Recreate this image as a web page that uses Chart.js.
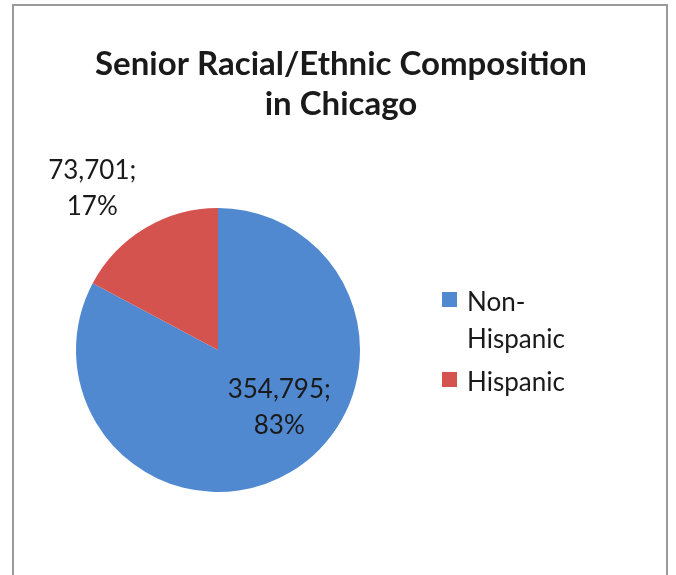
<!DOCTYPE html>
<html>
<head>
<meta charset="utf-8">
<script src="https://cdn.jsdelivr.net/npm/chart.js@4.4.0/dist/chart.umd.min.js"></script>
<style>
  html, body { margin: 0; padding: 0; background: #ffffff; }
  #wrap { position: relative; width: 676px; height: 575px; }
  #frame { position: absolute; left: 12px; top: 4px; width: 656px; height: 600px; border: 2px solid #9a9a9a; box-sizing: border-box; }
  canvas { position: absolute; left: 0; top: 0; }
</style>
</head>
<body>
<div id="wrap">
  <div id="frame"></div>
  <canvas id="pieChart" width="676" height="575"></canvas>
</div>
<script>
// Senior racial/ethnic composition, Chicago
const titleLines = ['Senior Racial/Ethnic Composition', 'in Chicago'];
const categories = ['Non-Hispanic', 'Hispanic'];
const legendLines = [['Non-', 'Hispanic'], ['Hispanic']];
const seniorCounts = [354795, 73701];
const sliceColors = ['#5089d0', '#d5534f'];

const textColor = '#1a1a1a';
const fontFamily = 'Lato, "Open Sans", sans-serif';

// where each data label sits, relative to its slice (radius fraction, angle shift in degrees)
const labelPlacement = [
    { r: 0.59, shift: -16 },
    { r: 1.44, shift: -7 }
];

// title + data labels + legend drawn by hand, Excel style
const excelDecor = {
    id: 'excelDecor',
    afterDraw(chart) {
        const ctx = chart.ctx;
        ctx.save();
        ctx.fillStyle = textColor;
        ctx.textAlign = 'center';
        ctx.textBaseline = 'middle';

        // title
        ctx.font = 'bold 33px ' + fontFamily;
        titleLines.forEach((line, i) => ctx.fillText(line, 341, 64 + i * 40));

        // data labels
        const total = seniorCounts.reduce((s, v) => s + v, 0);
        const meta = chart.getDatasetMeta(0);
        ctx.font = '26px ' + fontFamily;
        meta.data.forEach((arc, i) => {
            const p = labelPlacement[i];
            const mid = (arc.startAngle + arc.endAngle) / 2 + p.shift * Math.PI / 180;
            const x = arc.x + Math.cos(mid) * arc.outerRadius * p.r;
            const y = arc.y + Math.sin(mid) * arc.outerRadius * p.r;
            const pct = Math.round(seniorCounts[i] / total * 100) + '%';
            ctx.fillText(seniorCounts[i].toLocaleString('en-US') + ';', x, y - 18);
            ctx.fillText(pct, x, y + 18);
        });

        // legend
        ctx.textAlign = 'left';
        let y = 303;
        legendLines.forEach((lines, i) => {
            ctx.fillStyle = sliceColors[i];
            ctx.fillRect(442, y - 11, 15, 15);
            ctx.fillStyle = textColor;
            lines.forEach((t, j) => {
                ctx.fillText(t, 467, y + j * 37);
            });
            y += lines.length * 37 + 6;
        });
        ctx.restore();
    }
};

new Chart(document.getElementById('pieChart'), {
    type: 'pie',
    data: {
        labels: categories,
        datasets: [{
            data: seniorCounts,
            backgroundColor: sliceColors,
            borderWidth: 0
        }]
    },
    options: {
        responsive: false,
        animation: false,
        layout: { padding: { left: 76, right: 316, top: 208, bottom: 83 } },
        plugins: {
            legend: { display: false },
            title: { display: false },
            tooltip: { enabled: false }
        }
    },
    plugins: [excelDecor]
});
</script>
</body>
</html>
